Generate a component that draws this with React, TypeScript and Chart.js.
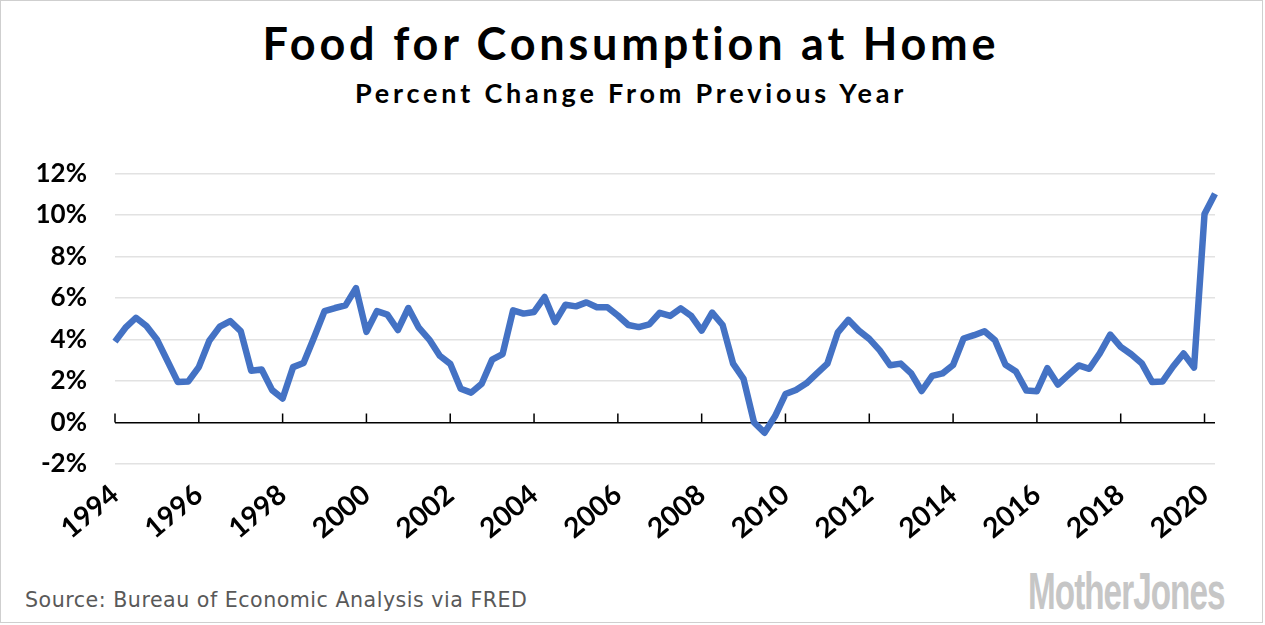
import React, { useEffect, useRef } from "react";
import { Chart, registerables } from "chart.js";

Chart.register(...registerables);

const quarterLabels: string[] = [];
for (let y = 1994; y <= 2020; y++) {
  for (let q = 1; q <= 4; q++) {
    if (y === 2020 && q > 2) break;
    quarterLabels.push(`${y} Q${q}`);
  }
}

const yearTickLabels = [
  "1994", "1996", "1998", "2000", "2002", "2004", "2006",
  "2008", "2010", "2012", "2014", "2016", "2018", "2020",
];

const pctChange1994to2000 = [
  3.9, 4.57, 5.05, 4.65, 4.0, 2.98, 1.95, 1.98, 2.67, 3.94, 4.62, 4.89, 4.41, 2.5,
  2.56, 1.56, 1.16, 2.67, 2.87, 4.1, 5.37, 5.52, 5.65, 6.48,
];
const pctChange2000to2008 = [
  4.37, 5.37, 5.2, 4.46, 5.52, 4.57, 4.0, 3.22, 2.83, 1.63, 1.44, 1.87, 3.03, 3.3,
  5.41, 5.25, 5.33, 6.05, 4.84, 5.68, 5.6, 5.79, 5.56, 5.56, 5.16, 4.7, 4.6, 4.73,
  5.29, 5.14, 5.5, 5.14,
];
const pctChange2008to2014 = [
  4.43, 5.3, 4.7, 2.84, 2.1, 0.0, -0.49, 0.3, 1.37, 1.57, 1.89, 2.37, 2.84, 4.35,
  4.95, 4.43, 4.03, 3.48, 2.76, 2.84, 2.37, 1.52, 2.25, 2.37,
];
const pctChange2014to2020 = [
  2.77, 4.05, 4.21, 4.4, 3.97, 2.78, 2.46, 1.54, 1.51, 2.62, 1.83, 2.3, 2.75, 2.59,
  3.33, 4.24, 3.65, 3.29, 2.86, 1.95, 1.98, 2.7, 3.33, 2.65, 10.05, 11.03,
];
const pctChange = [
  ...pctChange1994to2000,
  ...pctChange2000to2008,
  ...pctChange2008to2014,
  ...pctChange2014to2020,
];

const yMin = -2;
const yMax = 12;
const yStep = 2;

const zeroAxisPlugin = {
  id: "zeroAxis",
  beforeDatasetsDraw(chart: any) {
    const { ctx, scales } = chart;
    const x = scales.x;
    const y = scales.y;
    const y0 = y.getPixelForValue(0);
    ctx.save();
    ctx.strokeStyle = "#000";
    ctx.lineWidth = 1.5;
    ctx.beginPath();
    x.ticks.forEach((t: any) => {
      const px = x.getPixelForValue(t.value);
      ctx.moveTo(px, y0);
      ctx.lineTo(px, y0 - 9);
    });
    ctx.stroke();
    ctx.restore();
  },
};

export default function App() {
  const ref = useRef<HTMLCanvasElement>(null);
  useEffect(() => {
    if (!ref.current) return;
    const chart = new Chart(ref.current, {
      type: "line",
      data: {
        labels: quarterLabels,
        datasets: [
          {
            data: pctChange,
            borderColor: "#4472C4",
            borderWidth: 6.5,
            pointRadius: 0,
            tension: 0,
            borderJoinStyle: "round",
            borderCapStyle: "butt",
            fill: false,
          },
        ],
      },
      options: {
        animation: false,
        responsive: false,
        devicePixelRatio: 1,
        layout: { padding: { top: 39, right: 50, left: 0, bottom: 0 } },
        plugins: { legend: { display: false }, tooltip: { enabled: false }, title: { display: false } },
        scales: {
          x: {
            type: "category",
            offset: false,
            grid: { display: false, drawTicks: false },
            border: { display: false },
            afterBuildTicks: (scale: any) => {
              scale.ticks = scale.ticks.filter((t: any) => {
                const lab = quarterLabels[t.value];
                return yearTickLabels.includes(lab.slice(0, 4)) && lab.endsWith("Q1");
              });
            },
            afterFit: (scale: any) => {
              scale.height = 86;
            },
            ticks: {
              autoSkip: false,
              maxRotation: 40,
              minRotation: 40,
              padding: 14,
              color: "#000",
              font: { family: "Lato", weight: "bold", size: 28 },
              callback: (value: any) => quarterLabels[value].slice(0, 4),
            },
          },
          y: {
            min: yMin,
            max: yMax,
            afterFit: (scale: any) => {
              scale.width = 115;
            },
            border: { display: false },
            grid: {
              drawTicks: false,
              lineWidth: 1.5,
              color: (c: any) => (c.tick && c.tick.value === 0 ? "#000" : "#e2e2e2"),
            },
            ticks: {
              stepSize: yStep,
              padding: 28,
              color: "#000",
              font: { family: "Lato", weight: "bold", size: 26 },
              callback: (v: any) => `${v}%`,
            },
          },
        },
      },
      plugins: [zeroAxisPlugin],
    });
    return () => chart.destroy();
  }, []);

  return (
    <div style={{ position: "absolute", left: 0, top: 0, width: 1265, height: 625, background: "#fff", overflow: "hidden" }}>
      <div style={{ position: "absolute", left: 0, top: 0, width: 1263, height: 623, border: "1.5px solid #cfcfcf", boxSizing: "border-box" }} />
      <div style={{ position: "absolute", left: 0, top: 18, width: 1262, textAlign: "center", fontFamily: "Lato", fontWeight: 700, fontSize: 45, letterSpacing: 3.8, lineHeight: "50px", color: "#000", whiteSpace: "nowrap" }}>
        Food for Consumption at Home
      </div>
      <div style={{ position: "absolute", left: 0, top: 76, width: 1262, textAlign: "center", fontFamily: "Lato", fontWeight: 700, fontSize: 27, letterSpacing: 3.8, lineHeight: "34px", color: "#000", whiteSpace: "nowrap" }}>
        Percent Change From Previous Year
      </div>
      <canvas ref={ref} width={1265} height={420} style={{ position: "absolute", left: 0, top: 130, width: 1265, height: 420 }} />
      <div style={{ position: "absolute", left: 25, top: 588, fontFamily: "DejaVu Sans", fontSize: 20.6, letterSpacing: 0.5, lineHeight: "24px", color: "#595959", whiteSpace: "nowrap" }}>
        Source: Bureau of Economic Analysis via FRED
      </div>
      <div style={{ position: "absolute", left: 1028, top: 561, fontFamily: "Liberation Sans", fontWeight: 700, fontSize: 52, lineHeight: "60px", color: "#c6c6c6", letterSpacing: -1.5, whiteSpace: "nowrap", transformOrigin: "left top", transform: "scaleX(0.64)" }}>
        MotherJones
      </div>
    </div>
  );
}
